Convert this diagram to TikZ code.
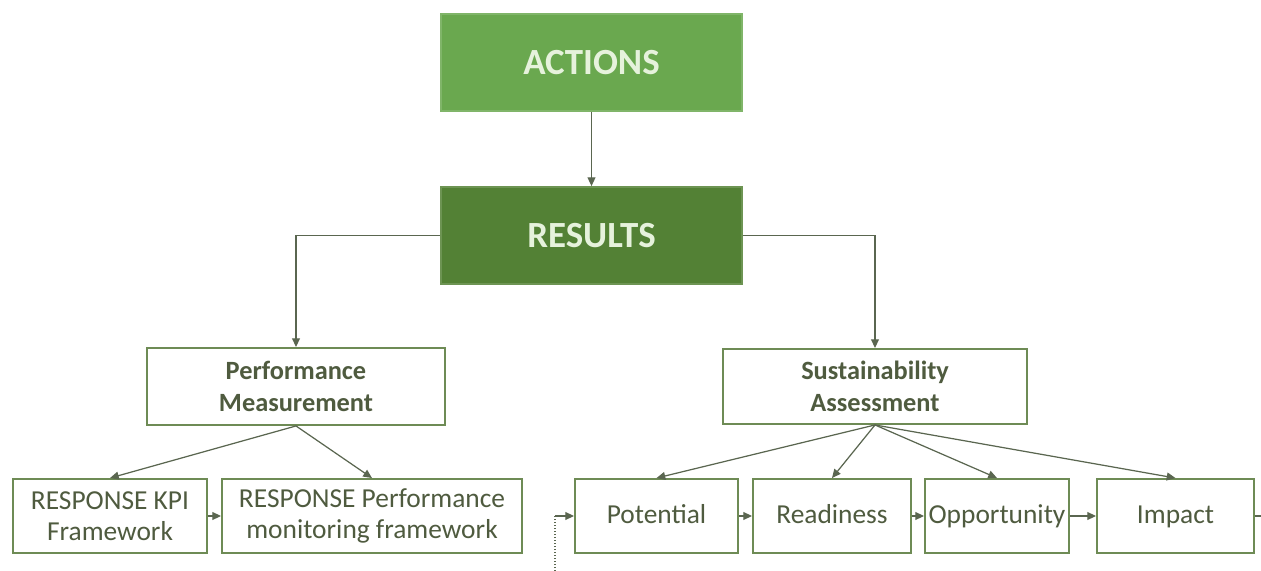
\documentclass[tikz,border=0pt]{standalone}
\usepackage{fontspec}
\setmainfont{Carlito}
\usepackage{tikz}
\usetikzlibrary{arrows.meta,positioning,calc}
\definecolor{leaf}{HTML}{6AA84F}
\definecolor{forest}{HTML}{538135}
\definecolor{pale}{HTML}{E6F2DC}
\definecolor{frame}{HTML}{6E8B55}
\definecolor{olive}{HTML}{4F5B3F}
\definecolor{wire}{HTML}{5A6650}

\begin{document}
\begin{tikzpicture}[
  x=0.02cm, y=-0.02cm,
  head/.style={draw=#1!85!white, line width=1pt, fill=#1, text=pale, font=\fontsize{21}{24}\selectfont\bfseries,
    minimum width=6.02cm, minimum height=1.94cm, inner sep=0pt},
  topic/.style={draw=frame, line width=1.1pt, fill=white, text=olive, align=center,
    font=\fontsize{15}{18}\selectfont\bfseries, minimum height=#1, inner sep=0pt},
  leafbox/.style={draw=frame, line width=1.1pt, fill=white, text=olive, align=center,
    font=\fontsize{15.6}{17.5}\selectfont, minimum width=#1, minimum height=1.48cm, inner sep=0pt},
  stage/.style={leafbox=#1, text height=0.9em, text depth=0.1em},
  arrow/.style={-{Triangle[length=5pt,width=4.5pt]}, wire, line width=0.7pt},
]
  \useasboundingbox (0,0) rectangle (1261,571);

  % Top level
  \node[head=leaf] (actions) at (591.5,62.5) {ACTIONS};
  \node[head=forest] (results) at (591.5,235.5) {RESULTS};

  % Two branches
  \node[topic=1.54cm, minimum width=5.96cm] (perf) at (296,386.5) {Performance\\Measurement};
  \node[topic=1.50cm, minimum width=6.08cm] (sust) at (875,386.5) {Sustainability\\Assessment};

  % Performance leaves
  \node[leafbox=3.88cm] (kpi) at (110,516) {RESPONSE KPI\\Framework};
  \node[leafbox=6.00cm] (monit) at (372,516) {RESPONSE Performance\\monitoring framework};

  % Sustainability stages
  \node[stage=3.26cm] (potential) at (656.5,516) {Potential};
  \node[stage=3.16cm] (readiness) at (832,516) {Readiness};
  \node[stage=2.88cm] (opportunity) at (997,516) {Opportunity};
  \node[stage=3.14cm] (impact) at (1175.5,516) {Impact};

  % Loose ends of the cycle
  \coordinate (back) at (555,516);
  \coordinate (backfoot) at (555,571);
  \coordinate (out) at (1261,516);

  % Arrows
  \draw[arrow] (actions) -- (results);
  \draw[arrow] (results.west) -| (perf.north);
  \draw[arrow] (results.east) -| (sust.north);
  \draw[arrow] (perf.south) -- (kpi.north);
  \draw[arrow] (perf.south) -- (monit.north);
  \draw[arrow] (sust.south) -- (potential.north);
  \draw[arrow] (sust.south) -- (readiness.north);
  \draw[arrow] (sust.south) -- (opportunity.north);
  \draw[arrow] (sust.south) -- (impact.north);
  \draw[arrow] (kpi) -- (monit);
  \draw[arrow] (potential) -- (readiness);
  \draw[arrow] (readiness) -- (opportunity);
  \draw[arrow] (opportunity) -- (impact);
  \draw[wire, line width=0.7pt] (impact.east) -- (out);
  \draw[wire, densely dotted, line width=0.7pt] (backfoot) -- (back);
  \draw[arrow] (back) -- (potential.west);
\end{tikzpicture}
\end{document}
